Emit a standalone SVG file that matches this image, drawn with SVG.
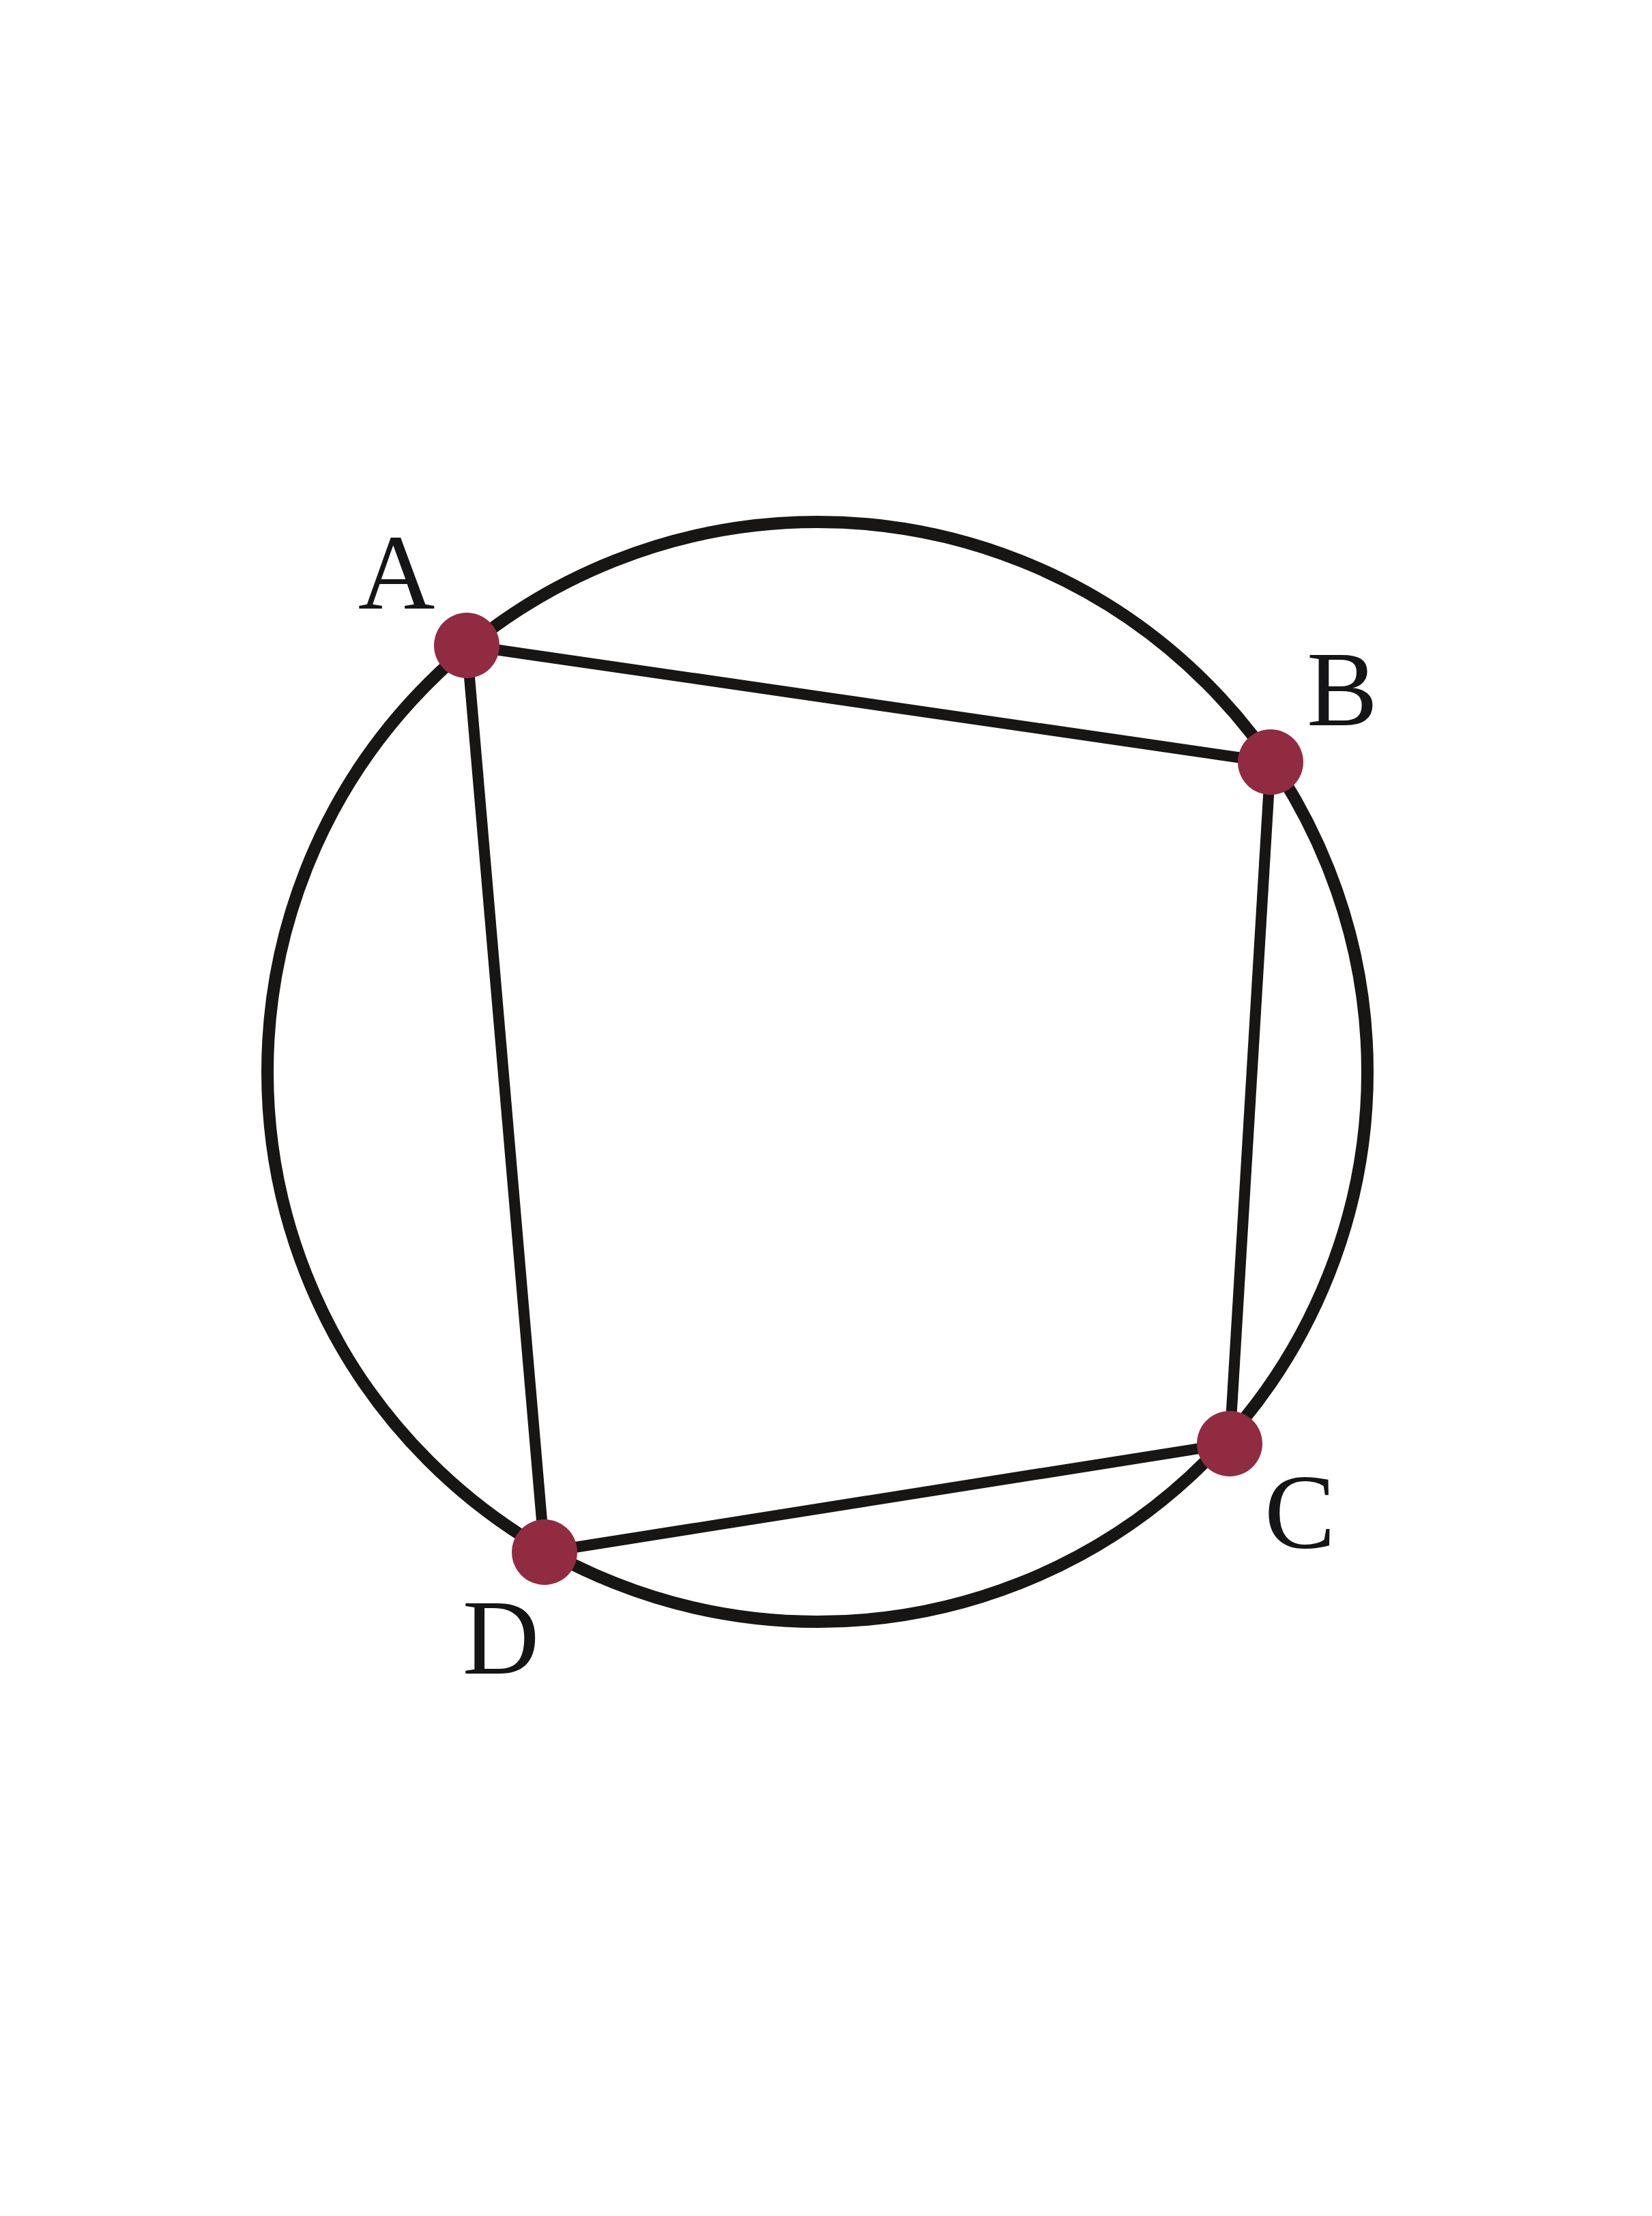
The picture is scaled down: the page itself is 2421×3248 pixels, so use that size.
<svg xmlns="http://www.w3.org/2000/svg" width="2421" height="3248" viewBox="0 0 2421 3248">
<style>
.circ{fill:none;stroke:#171614;stroke-width:18}
.edge{stroke:#171614;stroke-width:16;fill:none}
.dot{fill:#912b42}
.lbl{font-size:156px;fill:#151517;text-anchor:middle}
</style>
<rect width="2421" height="3248" fill="#fff"/>
<g id="circle"><circle class="circ" cx="1198" cy="1571" r="806"/></g>
<g id="connectors">
<line class="edge" x1="684" y1="946" x2="1862" y2="1117"/>
<line class="edge" x1="1862" y1="1117" x2="1802" y2="2116"/>
<line class="edge" x1="1802" y1="2116" x2="798" y2="2275"/>
<line class="edge" x1="798" y1="2275" x2="684" y2="946"/>
</g>
<g id="A"><circle class="dot" cx="684" cy="946" r="48"/><text class="lbl" font-family="Liberation Serif, Times New Roman, serif" x="581" y="892">A</text></g>
<g id="B"><circle class="dot" cx="1862" cy="1117" r="48"/><text class="lbl" font-family="Liberation Serif, Times New Roman, serif" x="1967" y="1063">B</text></g>
<g id="C"><circle class="dot" cx="1802" cy="2116" r="48"/><text class="lbl" font-family="Liberation Serif, Times New Roman, serif" x="1905" y="2268">C</text></g>
<g id="D"><circle class="dot" cx="798" cy="2275" r="48"/><text class="lbl" font-family="Liberation Serif, Times New Roman, serif" x="734" y="2453">D</text></g>
</svg>
